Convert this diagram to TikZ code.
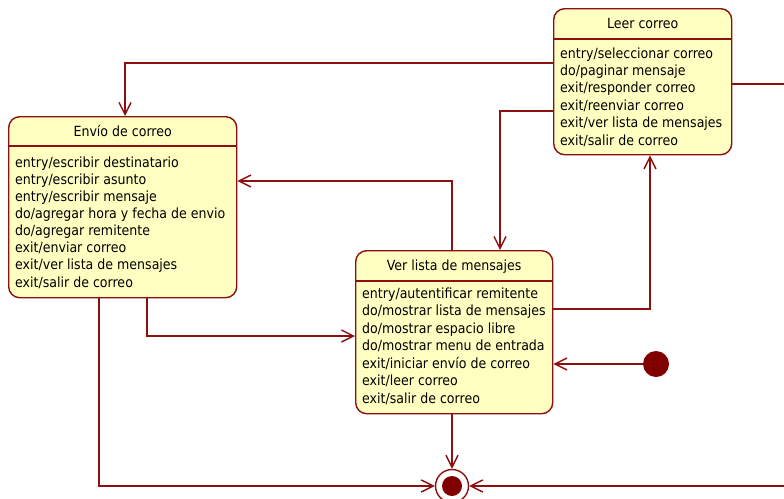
\documentclass[tikz,border=0pt]{standalone}
\usepackage{fontspec}
\setmainfont{DejaVu Sans Condensed}
\usetikzlibrary{arrows.meta}

\definecolor{umlline}{RGB}{140,16,16}
\definecolor{umldot}{RGB}{128,0,0}
\definecolor{umlfill}{RGB}{255,255,194}

\tikzset{
  statebox/.style={draw=umlline, fill=umlfill, line width=1.4pt, rounded corners=11pt,
    rectangle, inner sep=0pt, anchor=north west},
  sepline/.style={draw=umlline, line width=1.4pt},
  title/.style={anchor=base, inner sep=0pt, font=\fontsize{14}{16}\selectfont},
  action/.style={anchor=base west, inner sep=0pt, font=\fontsize{14}{16}\selectfont},
  trans/.style={draw=umlline, line width=1.4pt,
    -{Straight Barb[length=12pt,width=12pt,line width=1.4pt]}},
}

\begin{document}
\begin{tikzpicture}[x=1pt,y=-1pt]
\useasboundingbox[fill=white] (0,0) rectangle (784,498);

% --- states ---
\node[statebox, minimum width=228pt, minimum height=181pt] (envio) at (8,116) {};
\node[statebox, minimum width=197pt, minimum height=163pt] (ver)   at (355,250) {};
\node[statebox, minimum width=178pt, minimum height=146pt] (leer)  at (553,8) {};

% compartments
\draw[sepline] (envio.west |- 0,146) -- (envio.east |- 0,146);
\draw[sepline] (ver.west |- 0,281) -- (ver.east |- 0,281);
\draw[sepline] (leer.west |- 0,39) -- (leer.east |- 0,39);

% titles
\node[title] (envio-t) at (envio.center |- 0,136) {Envío de correo};
\node[title] (ver-t)   at (ver.center |- 0,270) {Ver lista de mensajes};
\node[title] (leer-t)  at (leer.center |- 0,28) {Leer correo};

% internal activities
\foreach \t [count=\i] in {entry/escribir destinatario, entry/escribir asunto,
    entry/escribir mensaje, do/agregar hora y fecha de envio, do/agregar remitente,
    exit/enviar correo, exit/ver lista de mensajes, exit/salir de correo}
  \node[action] (envio-a\i) at (15,167+17.15*\i-17.15) {\t};

\foreach \t [count=\i] in {entry/autentificar remitente, do/mostrar lista de mensajes,
    do/mostrar espacio libre, do/mostrar menu de entrada, exit/iniciar envío de correo,
    exit/leer correo, exit/salir de correo}
  \node[action] (ver-a\i) at (362,298+17.5*\i-17.5) {\t};

\foreach \t [count=\i] in {entry/seleccionar correo, do/paginar mensaje,
    exit/responder correo, exit/reenviar correo, exit/ver lista de mensajes,
    exit/salir de correo}
  \node[action] (leer-a\i) at (560,58+17.4*\i-17.4) {\t};

% --- pseudo states ---
\node[circle, fill=umldot, minimum size=26pt, inner sep=0pt] (init) at (656,364) {};
\node[circle, draw=umlline, line width=1.4pt, fill=white, minimum size=33pt, inner sep=0pt] (final) at (452,486) {};
\fill[umldot] (final.center) circle (10pt);

% edge continuation points
\coordinate (rightA) at (784,84);
\coordinate (rightB) at (784,486);

% --- transitions ---
\draw[trans] (leer.west |- 0,63) -| (envio.north -| 125,0);
\draw[trans] (leer.west |- 0,111) -| (ver.north -| 500,0);
\draw[trans] (ver.north -| 452,0) |- (envio.east |- 0,181);
\draw[trans] (envio.south -| 147,0) |- (ver.west |- 0,336);
\draw[trans] (ver.east |- 0,309) -| (leer.south -| 650,0);
\draw[trans] (init) -- (ver.east |- init);
\draw[trans] (ver.south -| final) -- (final);
\draw[trans] (envio.south -| 99,0) |- (final);
\draw[sepline] (leer.east |- rightA) -- (rightA);
\draw[trans] (rightB) -- (final);
\end{tikzpicture}
\end{document}
